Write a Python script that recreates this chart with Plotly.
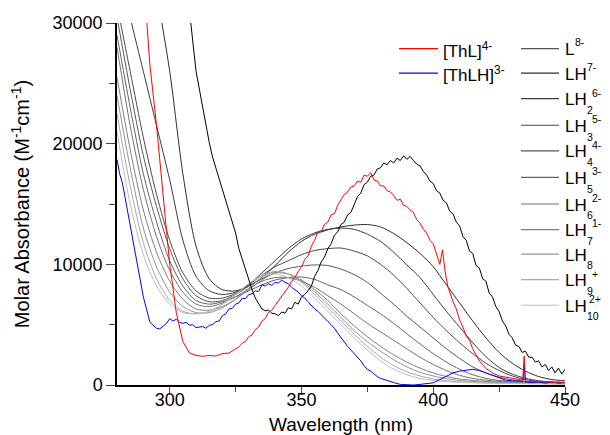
import plotly.graph_objects as go

# ---------------- data ----------------
wl_grid = list(range(280, 451, 5))  # 5 nm grid for the smooth titration species

LH7m = [52000, 44000, 38000, 32500, 26000, 17500, 11500, 8800, 7900, 7800, 8200, 8900, 9900, 11000, 11900, 12500,
        12850, 13100, 13250, 13300, 13100, 12550, 11800, 10900, 9800, 8300, 6800, 5300, 3900, 2700, 1800, 1150, 700, 450, 350]
LH2_6m = [36000, 30500, 26000, 21500, 17000, 12000, 9000, 7800, 7500, 7700, 8300, 9300, 10300, 11300, 12100, 12600,
          12900, 13000, 12900, 12500, 11900, 11000, 9950, 8900, 7500, 6100, 4800, 3500, 2350, 1450, 900, 550, 350, 250, 200]
LH3_5m = [31500, 26000, 20500, 15800, 12000, 9300, 7800, 7200, 7200, 7600, 8300, 9100, 9800, 10300, 10800, 11150,
          11300, 11350, 11100, 10700, 10000, 9100, 8000, 6800, 5600, 4500, 3500, 2600, 1800, 1200, 750, 450, 300, 220, 170]
LH4_4m = [30500, 24500, 19000, 14800, 11300, 8800, 7400, 6900, 7000, 7500, 8200, 8800, 9300, 9650, 9850, 9950,
          9900, 9600, 9150, 8500, 7600, 6700, 5700, 4800, 3900, 3000, 2200, 1500, 1000, 650, 420, 300, 220, 180, 150]
LH5_3m = [29000, 23000, 17500, 13500, 10300, 8200, 7000, 6700, 6900, 7300, 7800, 8300, 8700, 8900, 8950, 8750,
          8300, 7900, 7300, 6600, 5900, 5100, 4250, 3400, 2600, 1900, 1300, 850, 550, 380, 280, 220, 180, 150, 130]
LH6_2m = [28000, 21500, 16200, 12300, 9500, 7700, 6700, 6500, 6800, 7300, 8000, 8600, 8900, 8900, 8600, 8100,
          7400, 6700, 5900, 5100, 4400, 3700, 3000, 2300, 1700, 1200, 800, 550, 400, 300, 240, 200, 170, 140, 120]
LH7_1m = [25500, 19500, 14500, 11000, 8600, 7100, 6300, 6200, 6500, 7100, 7900, 8700, 9300, 9200, 8700, 7900,
          7000, 5900, 4900, 4000, 3200, 2500, 1900, 1400, 1000, 700, 500, 380, 300, 250, 200, 170, 150, 130, 110]
LH8 = [24000, 18000, 13000, 9800, 7700, 6500, 6000, 6000, 6400, 7100, 8000, 8900, 9400, 9200, 8600, 7700,
       6700, 5600, 4500, 3600, 2800, 2100, 1500, 1050, 750, 520, 380, 300, 240, 200, 170, 150, 130, 120, 100]
LH9p = [22500, 16500, 11800, 8800, 7000, 6100, 5900, 6100, 6700, 7500, 8400, 9100, 9400, 9200, 8500, 7500,
        6400, 5300, 4200, 3200, 2300, 1600, 1100, 750, 500, 350, 260, 210, 180, 160, 140, 120, 110, 100, 90]
LH10_2p = [21000, 15000, 10800, 8200, 6700, 6000, 5900, 6100, 6700, 7500, 8400, 9000, 9200, 8900, 8200, 7200,
           6100, 5000, 3900, 2900, 2000, 1300, 850, 550, 380, 280, 220, 180, 150, 130, 120, 110, 100, 90, 80]

# free ligand L8- (noisy spectrum)
wl_L8m = [280, 285, 290, 295, 300, 302.5, 305, 307.5] + [310 + 1.25 * i for i in range(113)]
L8m = [80000, 70000, 60000, 50000, 42000, 38500, 35000, 31000,
       26000, 24500, 22900, 21300, 20100, 18900, 18000, 17100, 16400, 15500, 14600, 13600, 12600, 11300, 10400, 9600,
       8800, 7900, 7200, 6700,
       6300, 6150, 6200, 5950, 5900, 5750, 6050, 5950, 6400, 6300, 6850, 6700, 7300, 7500, 7800, 8200, 9000, 9500,
       10200, 10600,
       11300, 11700, 12400, 12700, 13300, 13500, 14100, 14300, 14900, 15600, 15900, 16600, 16800, 17300, 17400, 17900,
       18000, 18400, 18250, 18600,
       18400, 18800, 18600, 19000, 18700, 18950, 18600, 18300, 18150, 17700, 17400, 16900, 16700, 16100, 15900, 15300,
       15100, 14400, 14200, 13500,
       13200, 12300, 12000, 11100, 10900, 9900, 9700, 8800, 8600, 7600, 7300, 6500, 6100, 5300, 4900, 4200, 3900, 3300,
       3200, 2700,
       2800, 2300, 2300, 1900, 2000, 1500, 1700, 1200, 1500, 1000, 1400, 900, 1300]

# [ThL]4- complex (noisy spectrum)
wl_ThL = ([280, 285, 290, 292.5, 295, 297.5, 300, 302.5, 305, 307.5, 310, 312.5, 315, 317.5, 320, 322.5]
          + [325 + 1.25 * i for i in range(63)]
          + [403.5, 404.5, 405.5, 407.5, 408.75, 410, 411.25, 412.5, 413.75, 415, 416.25, 417.5, 418.75, 420, 421.25,
             422.5, 425, 427.5, 430, 432.5, 434, 434.5, 435, 437.5, 440, 442.5, 445, 447.5, 450])
ThL = [60000, 45000, 34000, 26500, 21500, 15500, 10000, 6000, 3600, 2650, 2450, 2380, 2450, 2400, 2600, 2650,
       3000, 3150, 3450, 3600, 4000, 4150, 4600, 4800, 5300, 5500,
       6000, 6200, 6600, 6950, 7300, 7700, 8100, 8600, 8900, 9400,
       9800, 10400, 10700, 11500, 12000, 12700, 12700, 13300, 13500, 14100,
       14200, 14900, 15400, 15800, 16000, 16400, 16500, 16900, 16800, 17400,
       17300, 17600, 17000, 16900, 16500, 16500, 16100, 16000, 15700, 15300,
       15400, 14900, 14800, 14500, 14300, 13700, 13400, 12900, 12600, 12000,
       11700, 10800, 10000,
       11200, 9400, 8200, 6900, 6300, 5400, 4800, 4100, 3700, 3000, 2500, 2000, 1700, 1350, 1200, 1000, 750, 650, 500,
       420, 400, 2400, 300, 320, 250, 300, 200, 250, 200]

# [ThLH]3- complex (noisy spectrum)
wl_ThLH = ([280, 281, 282, 283, 285, 287.5, 290, 292.5, 295]
           + [296.25 + 1.25 * i for i in range(68)]
           + [382.5, 385, 387.5, 390, 392.5, 395, 397.5, 400, 402.5, 405, 407.5, 410, 412.5, 415, 417.5, 420, 422.5,
              425, 427.5, 430, 432.5, 434, 434.5, 435, 437.5, 440, 442.5, 445, 447.5, 450])
ThLH = [18700, 17500, 16800, 15600, 13000, 10200, 7300, 5200, 4700,
        4650, 4900, 5100, 5500, 5300, 5450, 5200, 5100, 5200, 4950,
        5000, 4750, 4800, 4850, 4700, 4950, 5000, 5250, 5300, 5750,
        5900, 6300, 6350, 6700, 6800, 7200, 7150, 7500, 7550, 7800,
        7750, 8300, 8200, 8400, 8250, 8500, 8450, 8700, 8500, 8400,
        8100, 7900, 7700, 7400, 7200, 6900, 6600, 6300, 6100, 5800,
        5500, 5270, 5000, 4700, 4300, 3900, 3600, 3200, 2900, 2600,
        2300, 2000, 1600, 1300, 1150, 900, 700, 550,
        350, 200, 50, 0, 0, 50, 100, 180, 450, 750, 1000, 1150, 1250, 1300, 1200, 1000, 750, 550, 400, 350, 300,
        300, 1700, 250, 200, 250, 150, 250, 150, 200]

complex_labels = ["[ThL]<sup>4-</sup>", "[ThLH]<sup>3-</sup>"]
species_main = ["L", "LH", "LH", "LH", "LH", "LH", "LH", "LH", "LH", "LH", "LH"]
species_sub = ["", "", "2", "3", "4", "5", "6", "7", "8", "9", "10"]
species_sup = ["8-", "7-", "6-", "5-", "4-", "3-", "2-", "1-", "", "+", "2+"]

x_ticks = [300, 350, 400, 450]
y_ticks = [0, 10000, 20000, 30000]

# ---------------- figure ----------------
gray_series = [LH7m, LH2_6m, LH3_5m, LH4_4m, LH5_3m, LH6_2m, LH7_1m, LH8, LH9p, LH10_2p]
gray_colors = ["#2e2e2e", "#3c3c3c", "#4a4a4a", "#575757", "#646464", "#727272", "#808080", "#939393",
               "#a8a8a8", "#bdbdbd"]

fig = go.Figure()
for ys, col, m, sb, sp in zip(gray_series, gray_colors, species_main[1:], species_sub[1:], species_sup[1:]):
    fig.add_trace(go.Scatter(x=wl_grid, y=ys, mode="lines", name=m + sb + sp, showlegend=False,
                             line=dict(color=col, width=1, shape="spline", smoothing=0.8)))
fig.add_trace(go.Scatter(x=wl_L8m, y=L8m, mode="lines", name="L8-", showlegend=False,
                         line=dict(color="#000000", width=1)))
fig.add_trace(go.Scatter(x=wl_ThLH, y=ThLH, mode="lines", name="[ThLH]3-", showlegend=False,
                         line=dict(color="#0000ff", width=1)))
fig.add_trace(go.Scatter(x=wl_ThL, y=ThL, mode="lines", name="[ThL]4-", showlegend=False,
                         line=dict(color="#ff0000", width=1)))

# ---- hand-drawn two-column legend (pixel positions in the 610x435 window) ----
OFF = 8          # page body margin around the plot div
L, T, PW, PH = 117, 23, 448, 354


def px(xp):
    return (xp - L) / PW


def py(yp):
    return (T + PH - yp) / PH


shapes = []
annotations = []
FONT = "Liberation Sans, Arial, sans-serif"
left_rows = [48, 72]
left_cols = ["#ff0000", "#0000ff"]
for yp, col, txt in zip(left_rows, left_cols, complex_labels):
    shapes.append(dict(type="line", xref="paper", yref="paper", x0=px(399), x1=px(438), y0=py(yp), y1=py(yp),
                       line=dict(color=col, width=1.2)))
    annotations.append(dict(xref="paper", yref="paper", x=px(441), y=py(yp + 1), text=txt, showarrow=False,
                            xanchor="left", yanchor="middle", font=dict(size=17, color="black")))

right_rows = [48, 72, 97, 123, 148, 174, 200, 225, 249, 274, 299]
right_cols = ["#555555"] + gray_colors
for yp, col, m, sb, sp in zip(right_rows, right_cols, species_main, species_sub, species_sup):
    shapes.append(dict(type="line", xref="paper", yref="paper", x0=px(521), x1=px(559), y0=py(yp), y1=py(yp),
                       line=dict(color=col, width=1.2)))
    annotations.append(dict(xref="paper", yref="paper", x=px(563), y=py(yp + 1), text=m, showarrow=False,
                            xanchor="left", yanchor="middle", font=dict(size=17, color="black")))
    main_end = 565 + (9.5 if m == "L" else 21.7)
    if sb:
        annotations.append(dict(xref="paper", yref="paper", x=px(main_end - 1), y=py(yp + 11), text=sb,
                                showarrow=False, xanchor="left", yanchor="middle", borderpad=0,
                                font=dict(size=10.5, color="black")))
    if sp:
        if not sb:
            sx = main_end - 1
        elif len(sb) > 1:
            sx = main_end + 1
        else:
            sx = main_end + 4
        annotations.append(dict(xref="paper", yref="paper", x=px(sx), y=py(yp - 6), text=sp,
                                showarrow=False, xanchor="left", yanchor="middle", borderpad=0,
                                font=dict(size=10.5, color="black")))

fig.update_layout(
    width=610 - OFF, height=435 - OFF,
    margin=dict(l=L - OFF, r=610 - L - PW, t=T - OFF, b=435 - T - PH - OFF, autoexpand=False),
    paper_bgcolor="white", plot_bgcolor="white",
    font=dict(family=FONT, size=18, color="black"),
    shapes=shapes, annotations=annotations, showlegend=False,
)
fig.update_xaxes(range=[280, 450], tickvals=x_ticks, ticks="outside", ticklen=8, tickwidth=1.2,
                 showline=True, linecolor="black", linewidth=1.5, showgrid=False, zeroline=False,
                 tickfont=dict(size=18), automargin=False, ticklabelstandoff=-10,
                 title=dict(text="Wavelength (nm)", font=dict(size=19), standoff=18),
                 minor=dict(dtick=25, tick0=300, ticks="outside", ticklen=5, tickwidth=1.2, showgrid=False))
fig.update_yaxes(range=[0, 30000], tickvals=y_ticks, tickformat="d", ticks="outside", ticklen=9, tickwidth=1.2,
                 showline=True, linecolor="black", linewidth=1.5, showgrid=False, zeroline=False,
                 tickfont=dict(size=18), automargin=False,
                 title=dict(text="Molar Absorbance (M<sup>-1</sup>cm<sup>-1</sup>)", font=dict(size=20), standoff=18),
                 minor=dict(dtick=5000, tick0=0, ticks="outside", ticklen=6, tickwidth=1.2, showgrid=False))

fig.write_html("out.html")
